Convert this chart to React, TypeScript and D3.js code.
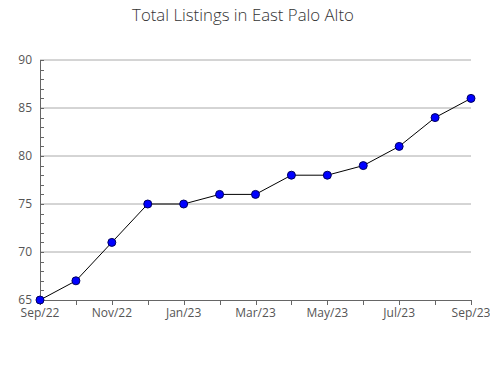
import React from "react";
import * as d3 from "d3";

const months = ["Sep/22","Oct/22","Nov/22","Dec/22","Jan/23","Feb/23","Mar/23","Apr/23","May/23","Jun/23","Jul/23","Aug/23","Sep/23"];
const values = [65, 67, 71, 75, 75, 76, 76, 78, 78, 79, 81, 84, 86];
const yTicks = [65, 70, 75, 80, 85, 90];
const title = "Total Listings in East Palo Alto";

export default function App() {
  const W = 490, H = 380;
  const left = 40, right = 471, top = 60, bottom = 300;
  const x = d3.scaleLinear().domain([0, months.length - 1]).range([left, right]);
  const y = d3.scaleLinear().domain([65, 90]).range([bottom, top]);
  const line = d3.line<number>().x((_, i) => x(i)).y((d) => y(d));
  const minor = d3.range(65, 91, 1);
  const font = "'Open Sans', sans-serif";
  return (
    <svg width={W} height={H} style={{ position: "absolute", left: 0, top: 0 }}>
      <rect width={W} height={H} fill="#fff" />
      <text x={243} y={21} textAnchor="middle" fontFamily={font} fontWeight={300} fontSize={16.8} fill="#333">{title}</text>
      {yTicks.filter((t) => t !== 65).map((t) => (
        <line key={"g" + t} x1={left} x2={right} y1={y(t)} y2={y(t)} stroke="#aaa" strokeWidth={1} />
      ))}
      {minor.map((t) => (
        <line key={"m" + t} x1={left} x2={left + 4} y1={Math.round(y(t)) + 0.5} y2={Math.round(y(t)) + 0.5} stroke="#666" />
      ))}
      <line x1={left + 0.5} x2={left + 0.5} y1={top} y2={bottom} stroke="#666" />
      <line x1={left} x2={right} y1={bottom + 0.5} y2={bottom + 0.5} stroke="#666" />
      {months.map((m, i) => (
        <line key={"xt" + i} x1={Math.round(x(i)) + 0.5} x2={Math.round(x(i)) + 0.5} y1={bottom} y2={bottom + 5} stroke="#666" />
      ))}
      {yTicks.map((t) => (
        <text key={"yl" + t} x={left - 8} y={y(t) + 4} textAnchor="end" fontFamily={font} fontSize={12} fill="#555">{t}</text>
      ))}
      {months.map((m, i) => i % 2 === 0 ? (
        <text key={"xl" + i} x={x(i)} y={bottom + 17} textAnchor="middle" fontFamily={font} fontSize={12} fill="#555">{m}</text>
      ) : null)}
      <path d={line(values) || ""} fill="none" stroke="#000" strokeWidth={1} />
      {values.map((v, i) => (
        <circle key={"p" + i} cx={x(i)} cy={y(v)} r={4} fill="#0000ff" stroke="#000060" strokeWidth={1} />
      ))}
    </svg>
  );
}
